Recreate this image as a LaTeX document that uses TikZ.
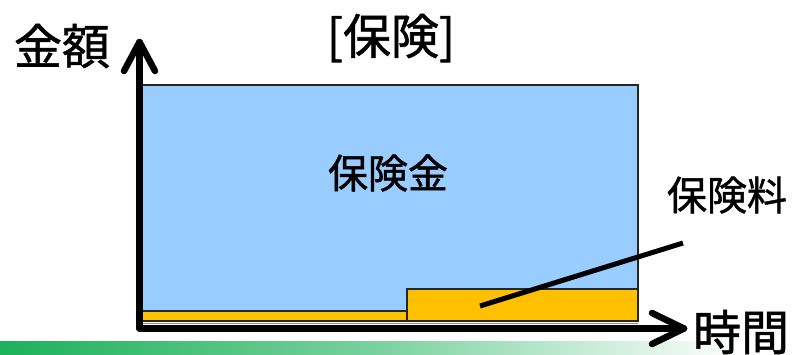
\documentclass[tikz,border=0pt]{standalone}
\usepackage{fontspec}
\setmainfont[FakeBold=1.2]{Noto Sans CJK JP}
\definecolor{blueFill}{RGB}{153,204,255}
\definecolor{orangeFill}{RGB}{255,192,0}
\definecolor{barGreen}{RGB}{28,178,90}
\begin{document}
\begin{tikzpicture}[x=1pt,y=-1pt,
  bigtxt/.style={font=\fontsize{48}{52}\selectfont, inner sep=0pt},
  midtxt/.style={font=\fontsize{40}{44}\selectfont, inner sep=0pt},
  axisline/.style={line width=6.5pt, line cap=round, line join=round},
  boxstyle/.style={draw=black!85, line width=1.2pt}]
\useasboundingbox (0,0) rectangle (792,354);
% gradient bar
\shade[left color=barGreen, right color=white, middle color=barGreen!60!white] (0,341) rectangle (740,354);
% boxes
\draw[boxstyle, fill=blueFill] (141,85) rectangle (638,321);
\draw[boxstyle, fill=orangeFill] (141,311) rectangle (407,321);
\draw[boxstyle, fill=orangeFill] (407,289) rectangle (638,321);
\draw[black!45, line width=1pt] (142,323.5) -- (638,323.5);
% axes
\coordinate (o) at (139.5,328.5);
\coordinate (ytip) at (139.5,42);
\coordinate (yl) at (124,71);
\coordinate (yr) at (155,71);
\coordinate (xtip) at (684,328.5);
\coordinate (xu) at (652,313);
\coordinate (xd) at (652,344);
\draw[axisline] (o) -- (ytip);
\draw[axisline] (yl) -- (ytip) -- (yr);
\draw[axisline] (o) -- (xtip);
\draw[axisline] (xu) -- (xtip) -- (xd);
% pointer line
\coordinate (p1) at (480,306);
\coordinate (p2) at (683,243);
\draw[line width=5pt] (p1) -- (p2);
% texts
\node[bigtxt] (title) at (391,38) {[保険]};
\node[bigtxt] (ylab) at (62,46) {金額};
\node[bigtxt] (xlab) at (741,332) {時間};
\node[midtxt] (kin) at (388,173) {保険金};
\node[midtxt] (ryo) at (727,195) {保険料};
\end{tikzpicture}
\end{document}
